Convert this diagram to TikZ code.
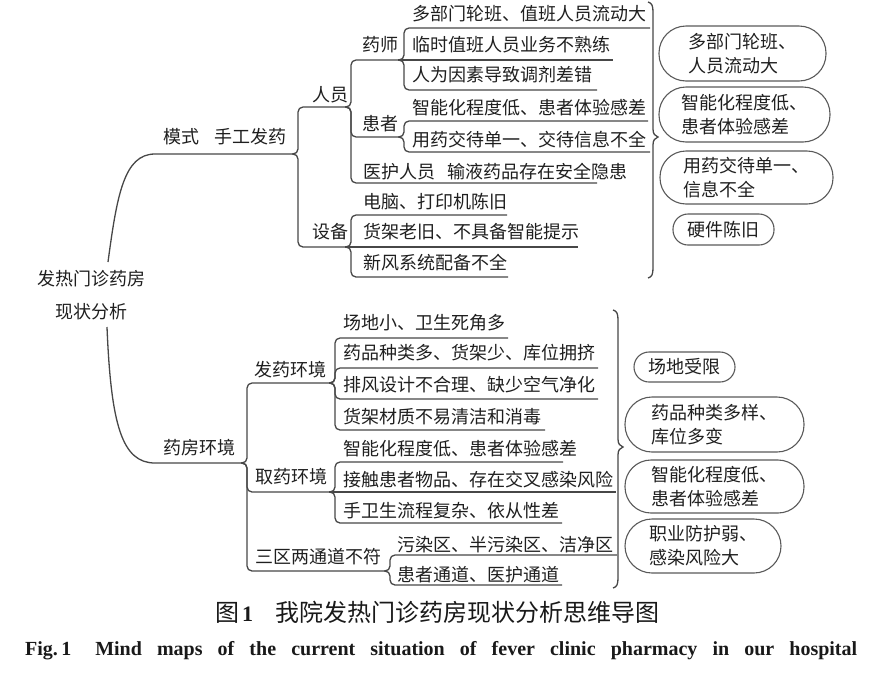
\documentclass[tikz,border=0pt]{standalone}
\usepackage{fontspec}
\setmainfont{Liberation Serif}
\newfontfamily\cjk{Noto Sans CJK SC}
\begin{document}
\begin{tikzpicture}[x=1pt,y=-1pt,
  tree/.style={draw=black!72, line width=1.3pt},
  twig/.style={draw=black!72, line width=1.3pt, rounded corners=5pt},
  bracestyle/.style={draw=black!72, line width=1.3pt},
  txt/.style={anchor=west, inner sep=0pt, font=\cjk\fontsize{18}{24}\selectfont, text=black!88},
  bub/.style={draw=black!65, line width=1.1pt, font=\cjk\fontsize{18}{24}\selectfont, align=left, inner sep=0pt, text=black!88},
]
\useasboundingbox (0,0) rectangle (884,678);

% ---------- root ----------
\node[txt, anchor=center] (root1) at (91,279) {发热门诊药房};
\node[txt, anchor=center] (root2) at (91,312) {现状分析};
\coordinate (rtA) at (108,262);
\coordinate (rtB) at (107,327);

% ---------- upper tree ----------
\coordinate (mode) at (212,154);
\coordinate (manual) at (292,154);
\draw[tree] (rtA) .. controls (117,195) and (124,154) .. (155,154) -- (mode) -- (manual);
\node[txt] (tmode) at (163,137) {模式};
\node[txt] (tmanual) at (214,137) {手工发药};

\coordinate (renyuan) at (345,107);
\coordinate (shebei) at (345,247);
\draw[twig] (manual) -- ++(6,0) |- (renyuan);
\draw[twig] (manual) -- ++(6,0) |- (shebei);
\node[txt] (trenyuan) at (312,95) {人员};
\node[txt] (tshebei) at (312,232) {设备};

\coordinate (yaoshi) at (398,60);
\coordinate (huanzhe) at (398,137);
\coordinate (yihu) at (597,183);
\draw[twig] (renyuan) -- ++(6,0) |- (yaoshi);
\draw[twig] (renyuan) -- ++(6,0) |- (huanzhe);
\draw[twig] (renyuan) -- ++(6,0) |- (yihu);
\node[txt] (tyaoshi) at (362,45) {药师};
\node[txt] (thuanzhe) at (362,124) {患者};
\node[txt] (tyihu) at (363,172) {医护人员};
\node[txt] (tyihu2) at (447,172) {输液药品存在安全隐患};

\coordinate (diannao) at (507,215);
\coordinate (huojia) at (578,247);
\coordinate (xinfeng) at (508,277);
\draw[twig] (shebei) -- ++(6,0) |- (diannao);
\draw[tree] (shebei) -- (huojia);
\draw[twig] (shebei) -- ++(6,0) |- (xinfeng);
\node[txt] (tdiannao) at (363,202) {电脑、打印机陈旧};
\node[txt] (thuojia) at (363,232) {货架老旧、不具备智能提示};
\node[txt] (txinfeng) at (363,263) {新风系统配备不全};

\coordinate (y1) at (650,28);
\coordinate (y2) at (613,60);
\coordinate (y3) at (597,90);
\draw[twig] (yaoshi) -- ++(6,0) |- (y1);
\draw[tree] (yaoshi) -- (y2);
\draw[twig] (yaoshi) -- ++(6,0) |- (y3);
\node[txt] (ty1) at (412,14) {多部门轮班、值班人员流动大};
\node[txt] (ty2) at (412,45) {临时值班人员业务不熟练};
\node[txt] (ty3) at (412,75) {人为因素导致调剂差错};

\coordinate (h1) at (648,121);
\coordinate (h2) at (650,152);
\draw[twig] (huanzhe) -- ++(6,0) |- (h1);
\draw[twig] (huanzhe) -- ++(6,0) |- (h2);
\node[txt] (th1) at (412,108) {智能化程度低、患者体验感差};
\node[txt] (th2) at (412,140) {用药交待单一、交待信息不全};

% upper brace
\draw[bracestyle] (648,2) .. controls (652,3) and (653,6) .. (653,12) -- (653,129)
  .. controls (653,134) and (655,136) .. (658,137)
  .. controls (655,138) and (653,140) .. (653,145) -- (653,268)
  .. controls (653,274) and (652,277) .. (648,278);

% upper bubbles
\node[bub, minimum width=167pt, minimum height=55pt, rounded corners=27pt] (b1) at (742.5,53.5) {多部门轮班、\\人员流动大};
\node[bub, minimum width=171pt, minimum height=55pt, rounded corners=27pt] (b2) at (744.5,114.5) {智能化程度低、\\患者体验感差};
\node[bub, minimum width=173pt, minimum height=53pt, rounded corners=26pt] (b3) at (746.5,177.5) {用药交待单一、\\信息不全};
\node[bub, minimum width=101pt, minimum height=31pt, rounded corners=15pt] (b4) at (723.5,229.5) {硬件陈旧};

% ---------- lower tree ----------
\coordinate (env) at (241,463);
\draw[tree] (rtB) .. controls (111,425) and (122,463) .. (155,463) -- (env);
\node[txt] (tenv) at (163,448) {药房环境};

\coordinate (fayao) at (329,383);
\coordinate (quyao) at (329,492);
\coordinate (sanqu) at (384,571);
\draw[twig] (env) -- ++(6,0) |- (fayao);
\draw[twig] (env) -- ++(6,0) |- (quyao);
\draw[twig] (env) -- ++(6,0) |- (sanqu);
\node[txt] (tfayao) at (254,370) {发药环境};
\node[txt] (tquyao) at (255,477) {取药环境};
\node[txt] (tsanqu) at (255,557) {三区两通道不符};

\coordinate (f1) at (508,338);
\coordinate (f2) at (598,368);
\coordinate (f3) at (598,399);
\coordinate (f4) at (545,430);
\draw[twig] (fayao) -- ++(6,0) |- (f1);
\draw[twig] (fayao) -- ++(6,0) |- (f2);
\draw[twig] (fayao) -- ++(6,0) |- (f3);
\draw[twig] (fayao) -- ++(6,0) |- (f4);
\node[txt] (tf1) at (343,323) {场地小、卫生死角多};
\node[txt] (tf2) at (343,353) {药品种类多、货架少、库位拥挤};
\node[txt] (tf3) at (343,385) {排风设计不合理、缺少空气净化};
\node[txt] (tf4) at (343,417) {货架材质不易清洁和消毒};

\coordinate (q1) at (563,462);
\coordinate (q2) at (616,492);
\coordinate (q3) at (562,523);
\draw[twig] (quyao) -- ++(6,0) |- (q1);
\draw[tree] (quyao) -- (q2);
\draw[twig] (quyao) -- ++(6,0) |- (q3);
\node[txt] (tq1) at (343,449) {智能化程度低、患者体验感差};
\node[txt] (tq2) at (343,480) {接触患者物品、存在交叉感染风险};
\node[txt] (tq3) at (343,511) {手卫生流程复杂、依从性差};

\coordinate (s1) at (617,555);
\coordinate (s2) at (562,585);
\draw[twig] (sanqu) -- ++(6,0) |- (s1);
\draw[twig] (sanqu) -- ++(6,0) |- (s2);
\node[txt] (ts1) at (397,545) {污染区、半污染区、洁净区};
\node[txt] (ts2) at (397,575) {患者通道、医护通道};

% lower brace
\draw[bracestyle] (613,310) .. controls (617,311) and (618,314) .. (618,320) -- (618,439)
  .. controls (618,444) and (620,446) .. (623,447)
  .. controls (620,448) and (618,450) .. (618,455) -- (618,578)
  .. controls (618,584) and (617,587) .. (613,588);

% lower bubbles
\node[bub, minimum width=101pt, minimum height=30pt, rounded corners=15pt] (b5) at (684.5,367) {场地受限};
\node[bub, minimum width=179pt, minimum height=55pt, rounded corners=27pt] (b6) at (714.5,424.5) {药品种类多样、\\库位多变};
\node[bub, minimum width=179pt, minimum height=53pt, rounded corners=26pt] (b7) at (714.5,486.5) {智能化程度低、\\患者体验感差};
\node[bub, minimum width=156pt, minimum height=54pt, rounded corners=27pt] (b8) at (703,546) {职业防护弱、\\感染风险大};

% ---------- captions ----------
\node[anchor=west, inner sep=0pt, text=black!90] (cap1) at (215,612)
  {\cjk\fontsize{24}{24}\selectfont 图\hspace{3pt}{\rmfamily\bfseries\fontsize{22}{22}\selectfont 1}\hspace{22pt}我院发热门诊药房现状分析思维导图};
\node[anchor=base west, inner sep=0pt, text=black!90] (cap2) at (25,655)
  {\bfseries\fontsize{20}{20}\selectfont\makebox[832pt][s]{Fig.\,1\hspace{24pt}Mind maps of the current situation of fever clinic pharmacy in our hospital}};
\end{tikzpicture}
\end{document}
